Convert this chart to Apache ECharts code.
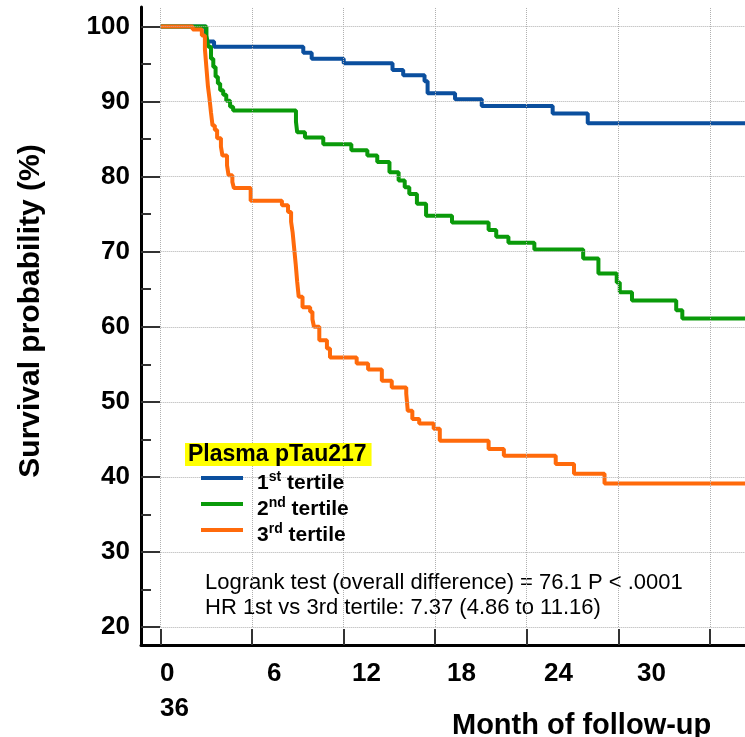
<!DOCTYPE html>
<html>
<head>
<meta charset="utf-8">
<script src="https://cdn.jsdelivr.net/npm/echarts@6/dist/echarts.min.js"></script>
<style>
  html, body { margin: 0; padding: 0; background: #fff; }
  #chart { width: 745px; height: 737px; }
</style>
</head>
<body>
<div id="chart"></div>
<script>
// Kaplan-Meier curves by plasma pTau217 tertile (months, survival %)
var groups = ['1st tertile', '2nd tertile', '3rd tertile'];
var colors = ['#0b4f9e', '#0a9a0a', '#ff6a0b'];

var t1 = [0, 2.95, 3.5, 9.35, 9.9, 12.0, 15.2, 15.9, 17.3, 17.5, 19.3, 21.05, 25.7, 28.0, 39];
var s1 = [100, 98.0, 97.3, 96.5, 95.7, 95.1, 94.2, 93.5, 92.7, 91.1, 90.3, 89.4, 88.4, 87.1, 87.1];

var t2 = [0, 3.0, 3.12, 3.3, 3.45, 3.6, 3.75, 3.9, 4.1, 4.3, 4.55, 4.75, 8.87, 8.95, 9.46, 10.66,
  12.5, 13.55, 14.2, 15.0, 15.6, 16.0, 16.3, 16.8, 17.4, 19.1, 21.5, 22.0, 22.8, 24.5, 27.7, 28.7,
  29.9, 30.1, 30.9, 33.8, 34.2, 39];
var s2 = [100, 98.8, 97.3, 95.7, 94.6, 93.3, 92.4, 91.5, 90.9, 90.1, 89.3, 88.8, 87.3, 85.9, 85.2, 84.3,
  83.5, 82.8, 81.95, 80.6, 79.5, 78.6, 77.7, 76.4, 74.8, 73.9, 72.9, 72.0, 71.2, 70.3, 69.1, 67.1,
  65.9, 64.6, 63.5, 62.2, 61.1, 61.1];

var t3 = [0, 2.1, 2.7, 2.9, 3.0, 3.1, 3.2, 3.3, 3.4, 3.55, 3.7, 3.95, 4.05, 4.35, 4.45, 4.7, 4.8, 5.9,
  7.95, 8.35, 8.55, 8.65, 8.75, 8.85, 8.95, 9.05, 9.3, 9.8, 9.95, 10.05, 10.4, 10.9, 11.1, 12.85, 13.6,
  14.5, 15.15, 16.1, 16.2, 16.5, 16.95, 17.9, 18.3, 21.5, 22.5, 25.9, 27.1, 29.1, 39];
var s3 = [100, 99.6, 98.8, 97.0, 94.5, 92.0, 90.4, 88.5, 86.8, 86.2, 85.1, 84.0, 82.8, 81.5, 80.2, 79.3, 78.5, 76.8,
  76.2, 75.3, 74.0, 72.6, 70.5, 68.4, 66.0, 64.0, 62.6, 62.0, 61.0, 60.0, 58.2, 57.1, 55.9, 55.1, 54.3,
  52.8, 51.9, 51.1, 48.8, 47.7, 47.1, 46.4, 44.8, 43.7, 42.8, 41.7, 40.4, 39.1, 39.1];

var yTicks = [20, 30, 40, 50, 60, 70, 80, 90, 100];
var yMinorTicks = [25, 35, 45, 55, 65, 75, 85, 95];
var xTicks = [0, 6, 12, 18, 24, 30, 36];
var xTickLabels = ['0', '6', '12', '18', '24', '30', '36'];

var FONT = "'Liberation Sans', Arial, sans-serif";
var X_MIN = -1.29, X_MAX = 38.31, Y_MIN = 17.6, Y_MAX = 102.6;

var times = [t1, t2, t3];
var survs = [s1, s2, s3];

var chart = echarts.init(document.getElementById('chart'));

var series = groups.map(function (name, k) {
  return {
    name: name,
    type: 'line',
    step: 'end',
    symbol: 'none',
    z: 3,
    color: colors[k],
    lineStyle: { width: 4, color: colors[k] },
    data: times[k].map(function (t, i) { return [t, survs[k][i]]; })
  };
});

// dotted grid, starting at x = 0 and y = 20 like the original
var gridLines = yTicks.map(function (v) {
  return [{ coord: [0, v] }, { coord: [X_MAX, v] }];
}).concat(xTicks.map(function (v) {
  return [{ coord: [v, 20] }, { coord: [v, Y_MAX] }];
}));
series.unshift({
  name: 'grid',
  type: 'line',
  data: [],
  z: 1,
  markLine: {
    silent: true,
    symbol: 'none',
    label: { show: false },
    lineStyle: { type: 'dotted', color: '#b0b0b0', width: 1 },
    emphasis: { disabled: true },
    data: gridLines
  }
});

// tick labels under the x axis sit like a wrapped text row in the original
var xLabelLeft = [160, 267, 352, 447, 544, 637, 160];
var xLabelRow = [674, 674, 674, 674, 674, 674, 709];
var graphics = xTickLabels.map(function (lab, i) {
  return {
    type: 'text', x: xLabelLeft[i], y: xLabelRow[i],
    style: { text: lab, fill: '#000', fontSize: 26, fontWeight: 'bold', fontFamily: FONT,
             align: 'left', verticalAlign: 'middle' }
  };
});
graphics.push({
  type: 'text', x: 31, y: 311, rotation: Math.PI / 2,
  style: { text: 'Survival probability (%)', fill: '#000', fontSize: 30, fontWeight: 'bold',
           fontFamily: FONT, align: 'center', verticalAlign: 'middle' }
});
graphics.push({
  type: 'text', x: 452, y: 726,
  style: { text: 'Month of follow-up', fill: '#000', fontSize: 29, fontWeight: 'bold',
           fontFamily: FONT, align: 'left', verticalAlign: 'middle' }
});
graphics.push({
  type: 'text', x: 205, y: 583,
  style: { text: 'Logrank test (overall difference) = 76.1 P < .0001', fill: '#000', fontSize: 22,
           fontFamily: FONT, align: 'left', verticalAlign: 'middle' }
});
graphics.push({
  type: 'text', x: 205, y: 608,
  style: { text: 'HR 1st vs 3rd tertile: 7.37 (4.86 to 11.16)', fill: '#000', fontSize: 22,
           fontFamily: FONT, align: 'left', verticalAlign: 'middle' }
});

var option = {
  animation: false,
  title: {
    text: 'Plasma pTau217',
    left: 185, top: 443,
    padding: [0, 5, 0, 3],
    backgroundColor: '#ffff00',
    textStyle: { fontSize: 23, fontWeight: 'bold', color: '#000', fontFamily: FONT, lineHeight: 23 }
  },
  legend: {
    orient: 'vertical', left: 201, top: 460, padding: 0, itemGap: -10,
    itemWidth: 42, itemHeight: 4, icon: 'rect', selectedMode: false, zlevel: 1,
    itemStyle: { borderWidth: 0 },
    data: groups,
    formatter: function (n) { return n.replace(/^(\d)(st|nd|rd)/, '$1{sup|$2}'); },
    textStyle: {
      fontSize: 21, fontWeight: 'bold', color: '#000', fontFamily: FONT, lineHeight: 26,
      padding: [10, 0, 0, 9],
      rich: { sup: { fontSize: 14, fontWeight: 'bold', color: '#000', fontFamily: FONT,
                     verticalAlign: 'top', lineHeight: 14 } }
    }
  },
  grid: { left: 141, right: 0, top: 7, bottom: 92 },
  xAxis: {
    type: 'value', min: X_MIN, max: X_MAX,
    axisLine: { onZero: false, lineStyle: { color: '#000', width: 3 } },
    axisTick: { inside: true, length: 16, customValues: xTicks, lineStyle: { color: '#333', width: 2 } },
    axisLabel: { show: false },
    splitLine: { show: false }
  },
  yAxis: [{
    type: 'value', min: Y_MIN, max: Y_MAX,
    axisLine: { show: true, onZero: false, lineStyle: { color: '#000', width: 3 } },
    axisTick: { show: true, inside: true, length: 19, customValues: yTicks, lineStyle: { color: '#333', width: 2 } },
    axisLabel: { customValues: yTicks, margin: 11, fontSize: 26, fontWeight: 'bold', color: '#000', fontFamily: FONT },
    splitLine: { show: false }
  }, {
    type: 'value', min: Y_MIN, max: Y_MAX, position: 'left', offset: 0,
    axisLine: { show: false, onZero: false },
    axisTick: { show: true, inside: true, length: 10, customValues: yMinorTicks, lineStyle: { color: '#333', width: 2 } },
    axisLabel: { show: false },
    splitLine: { show: false }
  }],
  graphic: graphics,
  series: series
};

chart.setOption(option);
</script>
</body>
</html>
